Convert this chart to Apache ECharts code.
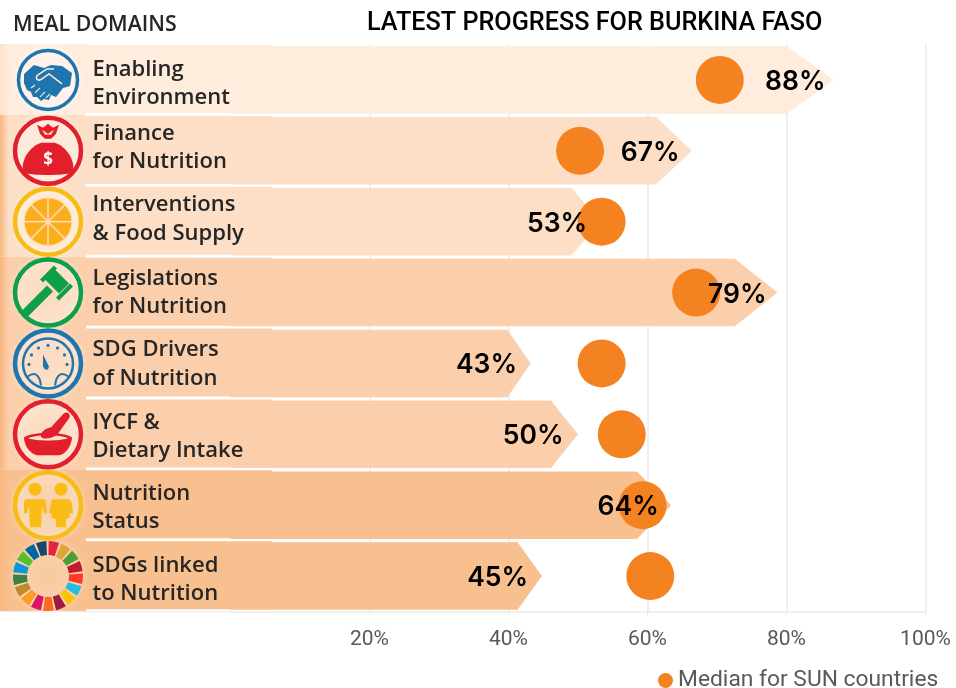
<!DOCTYPE html>
<html><head><meta charset="utf-8">
<style>html,body{margin:0;padding:0;background:#fff}#c{width:956px;height:688px}</style>
<script src="https://cdn.jsdelivr.net/npm/echarts@6/dist/echarts.min.js"></script>
</head><body><div id="c"></div>
<script>
const categories = ['Enabling\nEnvironment','Finance\nfor Nutrition','Interventions\n& Food Supply','Legislations\nfor Nutrition','SDG Drivers\nof Nutrition','IYCF &\nDietary Intake','Nutrition\nStatus','SDGs linked\nto Nutrition'];
const progressLabels = [88,67,53,79,43,50,64,45];
const barEnds = [86.8,66.4,53.2,78.7,43.2,50,63.4,44.8];
const labelAnchors = [85.7,64.7,51.4,77.2,41.3,48,61.7,42.9];
const medians = [70.4,50.3,53.4,67,53.4,56.3,59.3,60.4];
const rowColors = ['#FEECDD','#FCDFC6','#FCDFC6','#FBCFAB','#FBCFAB','#FBCFAB','#F7C08E','#F7C08E'];
const xTicks = [0,20,40,60,80,100];
const medianName = 'Median for SUN countries';
const categoryTextY = [83.5,147.5,219,292.5,364,436.5,507.5,579.5];

const rowTop = i => 44.5 + i * 70.875;
const rowCy = i => rowTop(i) + 35.44;
const BLUE='#1F75AE',RED='#E31F2D',YEL='#F9BC15',GRN='#0F9E49';

function ring(color,r,w){return {type:'circle',shape:{cx:0,cy:0,r:r||33},style:{fill:'rgba(255,255,255,0.12)',stroke:color,lineWidth:w||4.5}};}
let pathCount=0;
function p(d,fill,extra){
 const name='iconPath'+(pathCount++);
 echarts.graphic.registerShape(name,echarts.graphic.extendPath(d,{}));
 return {type:name,style:Object.assign({fill:fill},extra||{})};
}

function iconHands(){return [ring(BLUE,29.5,3.5),
 p('M-24,-6 L-14,-15 L-4,-12 L3,-15 L14,-14 L24,-7 L22,6 L15,8 L8,17 L3,15 L1,20 L-4,19 L-7,21 L-11,17 L-15,17 L-17,12 L-21,10 L-24,3 Z',BLUE),
 p('M14,4 L1,-6 L-6,-1 C-10,2 -14,-2 -10,-5 L-1,-11 L6,-11','none',{stroke:'#FEECDD',lineWidth:1.5}),
 p('M-17,8 L-13,5 M-13,13 L-8,8 M-8,17 L-3,12 M-2,18 L2,14','none',{stroke:'#FEECDD',lineWidth:1.1})];}
function iconBag(){return [ring(RED),
 p('M-25,22 C-28,6 -14,-7 -6,-8 L6,-8 C14,-7 28,6 25,22 C14,25 -14,25 -25,22 Z',RED),
 p('M-11,-26 L-5,-23 L0,-27 L5,-23 L11,-26 L8,-17 L3,-12 L-3,-12 L-8,-17 Z',RED),
 p('M-6,-21 L0,-17 L6,-21 L3,-16 L-3,-16 Z','#FCDFC6'),
 {type:'text',style:{text:'$',x:0,y:9,align:'center',verticalAlign:'middle',fill:'#fff',font:'bold 17px "Open Sans"'}}];}
function iconOrange(){const out=[ring(YEL),{type:'circle',shape:{cx:0,cy:0,r:24},style:{fill:'#FBAE1B'}}];
 for(let k=0;k<8;k++){const a=(k*45)*Math.PI/180;out.push({type:'line',shape:{x1:0,y1:0,x2:24*Math.cos(a),y2:24*Math.sin(a)},style:{stroke:'#FCDFC6',lineWidth:1.5}});}
 out.push({type:'circle',shape:{cx:0,cy:0,r:24},style:{fill:'none',stroke:'#FDE3A7',lineWidth:1.2}});
 return out;}
function iconGavel(){
 return [ring(GRN),
 p('M-25,17 L-1,-7 L5,-1 L-19,23 Q-22,25 -25,23 Q-27,20 -25,17 Z',GRN),
 p('M-3,-13 L7,-23 L21,-9 L11,1 Z',GRN),
 p('M-8,-13 L6,-27 L9,-24 L-5,-10 Z',GRN),
 p('M8,5 L22,-9 L25,-6 L11,8 Z',GRN)];}
function iconGauge(){const out=[ring(BLUE),{type:'circle',shape:{cx:0,cy:0,r:25},style:{fill:'none',stroke:BLUE,lineWidth:2.5}}];
 for(let k=0;k<7;k++){const a=(-180+k*30)*Math.PI/180;out.push({type:'circle',shape:{cx:19*Math.cos(a),cy:19*Math.sin(a)+1,r:1.6},style:{fill:BLUE}});}
 out.push(p('M-5,-9 L1,3 L0,6 L-3,6 L-5,3 Z',BLUE));
 out.push(p('M-20,13 C-14,8 -10,11 -8,17 L-7,22','none',{stroke:BLUE,lineWidth:2}));
 out.push(p('M20,13 C14,8 10,11 8,17 L7,22','none',{stroke:BLUE,lineWidth:2}));
 return out;}
function iconBowl(){return [ring(RED),
 p('M-24,3 C-14,-3 14,-3 24,3 C24,12 16,21 11,21 L-11,21 C-17,20 -24,12 -24,3 Z',RED),
 p('M-20,4 C-12,0 12,0 20,4 C12,7 -12,7 -20,4 Z','#FCDFC6'),
 p('M-7,3 C-8,-3 -2,-6 3,-7 L16,-21 C19,-24 24,-19 21,-16 L11,-2 C8,3 -2,6 -7,3 Z',RED)];}
function iconKids(){const c=YEL;return [ring(c),
 {type:'circle',shape:{cx:-13,cy:-16,r:6.5},style:{fill:c}},
 {type:'circle',shape:{cx:13,cy:-16,r:6.5},style:{fill:c}},
 p('M-22,-6 L-5,-6 C-3,-6 -2,-4 -2,-2 L-1,8 L-4,8 L-6,0 L-7,22 L-18,22 L-19,0 L-21,8 L-24,8 L-24,-3 C-24,-5 -23,-6 -22,-6 Z',c),
 p('M6,-6 L20,-6 C22,-6 23,-4 24,-2 L25,8 L22,8 L21,4 L22,12 L18,14 L18,22 L8,22 L8,14 L3,12 L5,3 L4,8 L1,8 L3,-2 C3,-4 4,-6 6,-6 Z',c)];}
function iconWheel(){const cols=['#E5243B','#DDA63A','#4C9F38','#C5192D','#FF3A21','#26BDE2','#FCC30B','#A21942','#FD6925','#DD1367','#FD9D24','#BF8B2E','#3F7E44','#0A97D9','#56C02B','#00689D','#19486A'];
 const st=2*Math.PI/17,s0=-Math.PI/2+0.02;
 return cols.map((c,k)=>({type:'sector',shape:{cx:0,cy:0,r:35,r0:21,startAngle:s0+k*st,endAngle:s0+k*st+st*0.82},style:{fill:c}}));}

const icons=[iconHands,iconBag,iconOrange,iconGavel,iconGauge,iconBowl,iconKids,iconWheel];

function leftPanel(){
 const els=[];
 const groups=[[0,1],[1,3],[3,6],[6,8]];
 groups.forEach(g=>{
  const y=rowTop(g[0])-0.5,h=(g[1]-g[0])*70.875;
  const c=rowColors[g[0]];
  els.push({type:'rect',z:-5,shape:{x:0,y:y,width:86,height:h},style:{fill:{type:'linear',x:0,y:0,x2:1,y2:0,colorStops:[{offset:0,color:g[0]===0?'#FDE3CC':'#F9B680'},{offset:0.1,color:c},{offset:1,color:c}]}}});
 });
 categories.forEach((t,i)=>{
  const c=rowColors[i];
  els.push({type:'rect',z:-4,shape:{x:86,y:rowTop(i)+0.5,width:186,height:68},style:{fill:c}});
  els.push({type:'circle',z:-4,shape:{cx:48,cy:rowCy(i),r:40},style:{fill:{type:'radial',x:0.5,y:0.5,r:0.5,colorStops:[{offset:0,color:'rgba(255,255,255,0.12)'},{offset:0.75,color:'rgba(255,255,255,0.32)'},{offset:1,color:'rgba(255,255,255,0)'}]}}});
  els.push({type:'group',z:-3,x:48,y:rowCy(i),children:icons[i]()});
  els.push({type:'text',z:20,style:{text:t,x:92.5,y:categoryTextY[i],verticalAlign:'middle',fill:'#262626',font:'600 22px "Open Sans"',lineHeight:28.5}});
 });
 els.push({type:'rect',z:-6,shape:{x:0,y:610.5,width:232,height:2},style:{fill:'#F0F0F0'}});
 els.push({type:'text',style:{text:'MEAL DOMAINS',x:13,y:25,verticalAlign:'middle',fill:'#262626',font:'600 21.3px "Open Sans"'}});
 return els;
}

const chart=echarts.init(document.getElementById('c'),null,{renderer:'canvas'});
chart.setOption({
 animation:false,
 backgroundColor:'#fff',
 title:{text:'LATEST PROGRESS FOR BURKINA FASO',left:362,top:6,textStyle:{fontFamily:'Roboto',fontWeight:500,fontSize:25.2,color:'#000'}},
 grid:{left:230.5,top:44.5,width:695,height:567,containLabel:false},
 legend:{data:[medianName],left:653,top:664,itemWidth:15,itemHeight:15,itemGap:5,icon:'circle',
  textStyle:{fontFamily:'Roboto',fontSize:22.8,color:'#595959'}},
 xAxis:{type:'value',min:xTicks[0],max:xTicks[xTicks.length-1],interval:20,
  axisLine:{show:true,lineStyle:{color:'#EFEFEF',width:2}},
  axisTick:{show:true,length:4,lineStyle:{color:'#E8E8E8'}},
  splitLine:{show:true,showMinLine:false,lineStyle:{color:'#EFEFEF',width:2}},
  axisLabel:{showMinLabel:false,formatter:'{value}%',margin:18,color:'#595959',fontFamily:'Roboto',fontSize:21}},
 yAxis:{type:'category',inverse:true,data:categories,z:10,
  axisLine:{show:false},axisTick:{show:false},axisLabel:{show:false}},
 graphic:{elements:leftPanel()},
 series:[
  {type:'pictorialBar',name:'Progress',z:2,silent:true,symbol:'path://M0,0 L92.2,0 L100,50 L92.2,100 L0,100 Z',symbolPosition:'start',symbolSize:['100%',67.5],
   data:barEnds.map((v,i)=>({value:v,itemStyle:{color:rowColors[i]}}))},
  {type:'scatter',name:medianName,z:3,symbol:'circle',symbolSize:48,itemStyle:{color:'#F58220',opacity:1},
   data:medians.map((v,i)=>[v,categories[i]])},
  {type:'scatter',name:'Labels',z:4,symbol:'circle',symbolSize:1,itemStyle:{color:'rgba(0,0,0,0)',opacity:1},
   label:{show:true,position:'left',distance:0,offset:[0,2],color:'#000',opacity:1,textBorderWidth:0,fontFamily:'Inter',fontWeight:600,fontSize:26.5,
    formatter:o=>progressLabels[o.dataIndex]+'%'},
   data:labelAnchors.map((v,i)=>[v,categories[i]])}
 ]
});
</script></body></html>
